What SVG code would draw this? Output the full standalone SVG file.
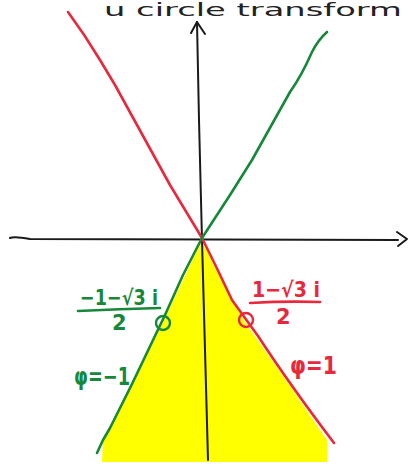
<svg xmlns="http://www.w3.org/2000/svg" width="411" height="464" viewBox="0 0 411 464">
<style>
.ax{fill:none;stroke:#1a1a1a;stroke-width:2;stroke-linecap:round;stroke-linejoin:round}
.red{fill:none;stroke:#e8283c;stroke-width:2.6;stroke-linecap:round;stroke-linejoin:round}
.grn{fill:none;stroke:#17883a;stroke-width:2.6;stroke-linecap:round;stroke-linejoin:round}
.tr{fill:#e8283c;font-family:"DejaVu Sans",sans-serif;font-weight:bold}
.tg{fill:#17883a;font-family:"DejaVu Sans",sans-serif;font-weight:bold}
.tk{fill:#222;font-family:"DejaVu Sans",sans-serif}
</style>
<rect width="411" height="464" fill="#ffffff"/>
<g id="title">
<text class="tk" x="104" y="16" font-size="17" textLength="298" lengthAdjust="spacingAndGlyphs">u circle transform</text>
</g>
<g id="region">
<path d="M202,240 L165,318 L132,384 L103,440 L102,462 L327,462 L327,440 L290,386 L245,322 L212,262 Z" fill="#ffff00"/>
</g>
<g id="connectors">
<path class="ax" d="M10,238 Q14,236 30,239 L398,240"/>
<path class="ax" d="M397,232 L407,239 L398,246"/>
<path class="ax" d="M197,22 L199,120 L202,240 L205,350 L208,460"/>
<path class="ax" d="M191,33 L197,22 L205,34"/>
<path class="red" d="M68,12 Q85,35 100,60 L115,85 Q145,140 170,185 L202,238 Q218,270 232,300 L258,336 Q290,385 334,443"/>
<path class="grn" d="M327,32 Q318,40 312,52 Q302,75 290,92 L252,160 L230,195 L202,238 L183,275 L165,315 L132,384 L110,428 L103,440 L97,453"/>
</g>
<g id="pt-green">
<circle cx="163" cy="323" r="7" fill="none" stroke="#17883a" stroke-width="2.4"/>
<text class="tg" x="80" y="305" font-size="21" textLength="78" lengthAdjust="spacingAndGlyphs">−1−√3 i</text>
<path class="grn" d="M78,311 Q120,309 160,308"/>
<text class="tg" x="112" y="330" font-size="21">2</text>
<text class="tg" x="74" y="385" font-size="24" textLength="56" lengthAdjust="spacingAndGlyphs">φ=−1</text>
</g>
<g id="pt-red">
<circle cx="246" cy="320" r="7" fill="none" stroke="#e8283c" stroke-width="2.4"/>
<text class="tr" x="252" y="297" font-size="21" textLength="68" lengthAdjust="spacingAndGlyphs">1−√3 i</text>
<path class="red" d="M250,303 Q285,301 320,302"/>
<text class="tr" x="276" y="324" font-size="21">2</text>
<text class="tr" x="290" y="374" font-size="24" textLength="47" lengthAdjust="spacingAndGlyphs">φ=1</text>
</g>
</svg>
